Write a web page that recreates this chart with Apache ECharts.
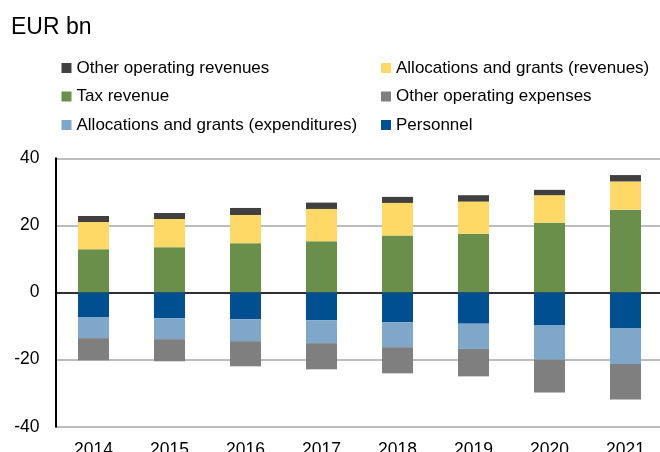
<!DOCTYPE html>
<html>
	<head>
		<meta charset="utf-8">
		<title></title>
		<style>
			html, body { margin: 0; padding: 0; background: #fff; }
		</style>
	</head>
	<body>
		<div id='chart' style="width: 660px; height: 452px;"></div>
	</body>
	<script src='https://cdn.jsdelivr.net/npm/echarts@6/dist/echarts.min.js'></script>
	<script>

	// data, EUR bn
	var years = ['2014', '2015', '2016', '2017', '2018', '2019', '2020', '2021'];
	var taxRevenue = [12.9, 13.5, 14.7, 15.3, 17.0, 17.5, 20.8, 24.7];
	var allocRevenues = [8.1, 8.4, 8.4, 9.6, 9.7, 9.6, 8.2, 8.4];
	var otherRevenues = [1.8, 1.8, 2.1, 1.9, 1.8, 1.9, 1.6, 1.9];
	var personnel = [-7.3, -7.7, -8.0, -8.3, -8.9, -9.3, -9.8, -10.6];
	var allocExpenditures = [-6.3, -6.2, -6.5, -6.8, -7.4, -7.5, -10.2, -10.7];
	var otherExpenses = [-6.6, -6.6, -7.5, -7.8, -7.8, -8.2, -9.8, -10.6];
	var yTicks = [-40, -20, 0, 20, 40];

	var font = 'Liberation Sans, Arial, sans-serif';

	function bar(name, data, color) {
		return {
			name: name,
			type: 'bar',
			stack: 'total',
			barWidth: 31,
			animation: false,
			itemStyle: { color: color },
			data: data
		};
	}

	var legendText = { fontFamily: font, fontSize: 17, color: '#000', lineHeight: 18 };

	option = {
		title: {
			text: 'EUR bn',
			left: 6,
			top: 11,
			textStyle: { fontFamily: font, fontSize: 23, fontWeight: 'normal', color: '#000' }
		},
		legend: [
			{
				orient: 'vertical',
				left: 56.5,
				top: 54,
				itemWidth: 10,
				itemHeight: 10,
				itemGap: 10.5,
				icon: 'rect',
				textStyle: legendText,
				data: ['Other operating revenues', 'Tax revenue', 'Allocations and grants (expenditures)']
			},
			{
				orient: 'vertical',
				left: 376,
				top: 54,
				itemWidth: 10,
				itemHeight: 10,
				itemGap: 10.5,
				icon: 'rect',
				textStyle: legendText,
				data: ['Allocations and grants (revenues)', 'Other operating expenses', 'Personnel']
			}
		],
		grid: {
			left: 55.5,
			top: 158.3,
			width: 608,
			height: 268.4,
			containLabel: false,
			outerBoundsMode: 'none'
		},
		xAxis: {
			type: 'category',
			data: years,
			axisLine: { onZero: true, lineStyle: { color: '#000', width: 1.5 } },
			axisTick: { show: false },
			axisLabel: { margin: 14, fontFamily: font, fontSize: 17.5, color: '#000' }
		},
		yAxis: {
			type: 'value',
			min: yTicks[0],
			max: yTicks[yTicks.length - 1],
			interval: 20,
			axisLine: { show: true, lineStyle: { color: '#000', width: 2 } },
			axisTick: { show: false },
			splitLine: { lineStyle: { color: '#a6a6a6', width: 1.5 } },
			axisLabel: { margin: 16, fontFamily: font, fontSize: 17.5, color: '#000' }
		},
		series: [
			bar('Tax revenue', taxRevenue, '#6a8f4b'),
			bar('Allocations and grants (revenues)', allocRevenues, '#ffd966'),
			bar('Other operating revenues', otherRevenues, '#404040'),
			bar('Personnel', personnel, '#004f91'),
			bar('Allocations and grants (expenditures)', allocExpenditures, '#7fa7c9'),
			bar('Other operating expenses', otherExpenses, '#7f7f7f')
		]
	};

	var chart = echarts.init(document.getElementById('chart'));
	chart.setOption(option);
	</script>
</html>
